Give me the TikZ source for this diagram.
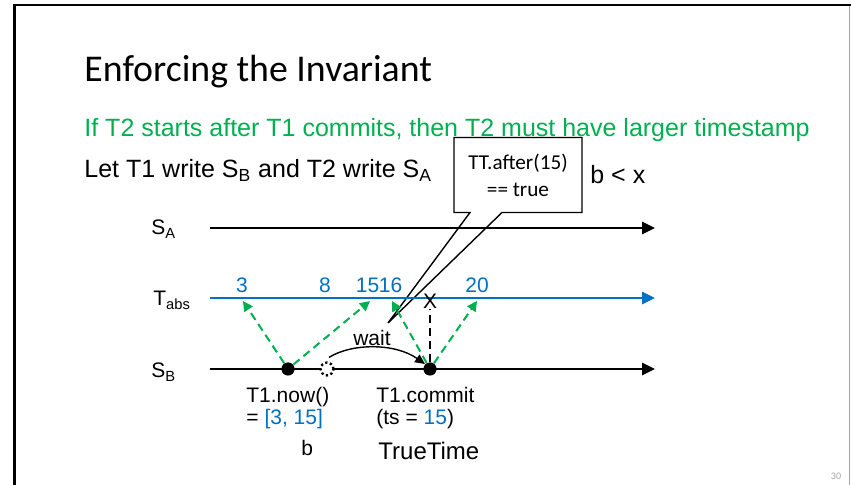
\documentclass[tikz,border=0pt]{standalone}
\usepackage{fontspec}
\setmainfont{Liberation Sans}
\newfontfamily\calfont{Carlito}
\usetikzlibrary{arrows.meta,calc,shapes.callouts}
\definecolor{ink}{HTML}{000000}
\definecolor{tblue}{HTML}{0070C0}
\definecolor{tgreen}{HTML}{00B050}
\definecolor{pagegray}{HTML}{A6A6A6}
\tikzset{
  every node/.style={inner sep=0pt, font=\fontsize{10.5}{12.6}\selectfont, text=ink},
  txt/.style={anchor=base west},
  bodytxt/.style={txt, font=\fontsize{12.5}{15}\selectfont},
  num/.style={anchor=base, text=tblue},
  tline/.style={line width=1.3pt, draw=ink, -{Triangle[length=6.5pt, width=6pt]}},
  absline/.style={tline, draw=tblue},
  tsarr/.style={line width=1pt, draw=tgreen, dash pattern=on 4pt off 2.5pt,
                -{Triangle[length=5pt, width=5pt]}},
  xarr/.style={line width=1pt, draw=ink, dash pattern=on 4pt off 2.5pt},
  waitarr/.style={line width=0.7pt, draw=ink, -{Triangle[length=5pt, width=4.5pt]}},
  dot/.style={circle, fill=ink, minimum size=6.6pt},
  ghostdot/.style={circle, draw=ink, fill=white, dash pattern=on 1.1pt off 1.3pt,
                   line width=1.2pt, minimum size=6.4pt},
  callbox/.style={rectangle callout, draw=ink, fill=white, line width=0.7pt,
                  minimum width=64pt, minimum height=37.5pt, align=center,
                  font=\calfont\fontsize{10.6}{13.5}\selectfont, callout pointer width=16pt},
}

\begin{document}
\begin{tikzpicture}[x=0.5pt, y=-0.5pt]
\useasboundingbox (0,0) rectangle (851,485);

% slide frame
\draw[line width=1.4pt] (14.5,485) -- (14.5,5) -- (851,5);
\draw[line width=0.5pt, draw=pagegray] (849.5,6) -- (849.5,485);
\node[font=\calfont\fontsize{5}{6}\selectfont, text=pagegray] (page) at (836,476) {30};

% heading and text
\node[txt, font=\calfont\fontsize{18.9}{22}\selectfont] (title) at (84,82) {Enforcing the Invariant};
\node[bodytxt, text=tgreen] (rule) at (84,137) {If T2 starts after T1 commits, then T2 must have larger timestamp};
\node[bodytxt] (setup) at (84,178) {Let T1 write S\textsubscript{B} and T2 write S\textsubscript{A}};

\coordinate (tip) at (388,323);
\node[callbox, callout absolute pointer={(tip)}] (after) at (518,175) {TT.after(15)\\== true};
\node[txt, font=\fontsize{12.5}{14}\selectfont] (bx) at (590,184) {b < x};

% lanes
\coordinate (sa0) at (210,228);
\coordinate (sa1) at (655,228);
\coordinate (ta0) at (210,298);
\coordinate (ta1) at (655,298);
\coordinate (sb0) at (210,369);
\coordinate (sb1) at (655,369);
\node[txt] (salbl) at (151,235) {S\textsubscript{A}};
\node[txt] (talbl) at (153,306) {T\textsubscript{abs}};
\node[txt] (sblbl) at (151,378) {S\textsubscript{B}};
\draw[tline] (sa0) -- (sa1);
\draw[absline] (ta0) -- (ta1);
\draw[tline] (sb0) -- (sb1);

% absolute times
\node[num] (n3) at (242,293) {3};
\node[num] (n8) at (325,293) {8};
\node[num] (n15) at (367.5,293) {15};
\node[num] (n16) at (390.5,293) {16};
\node[num] (n20) at (477,293) {20};
\coordinate (t3) at (243,301);
\coordinate (t15) at (370,301);
\coordinate (t16) at (392,301);
\coordinate (t20) at (477,301);
\node (xmark) at (430,301) {X};

% events on S_B
\node[dot] (now) at (288,369) {};
\node[ghostdot] (ghost) at (327,369) {};
\node[dot] (commit) at (430,369) {};

\draw[tsarr] (now) -- (t3);
\draw[tsarr] (now) -- (t15);
\draw[tsarr] (commit) -- (t16);
\draw[tsarr] (commit) -- (t20);
\draw[xarr] (commit) -- (xmark.south);
\draw[waitarr] ([xshift=1pt,yshift=2pt]ghost.north) .. controls (352,343) and (395,343) .. (commit.north west);
\node (wait) at (372,338) {wait};

% labels below
\node[txt] (nowlbl) at (246,403) {T1.now()};
\node[txt] (nowval) at (246,425) {= \textcolor{tblue}{[3, 15]}};
\node[txt] (blbl) at (301,456) {b};
\node[txt] (commitlbl) at (376,403) {T1.commit};
\node[txt] (tslbl) at (376,425) {(ts = \textcolor{tblue}{15})};
\node[txt, font=\fontsize{12}{14}\selectfont] (ttlbl) at (378,460) {TrueTime};

\end{tikzpicture}
\end{document}
